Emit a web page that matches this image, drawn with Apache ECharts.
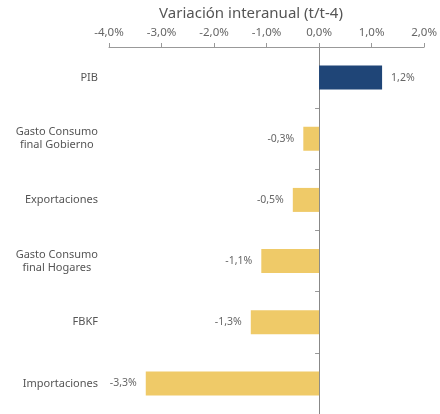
<!DOCTYPE html>
<html>
<head>
<meta charset="utf-8">
<script src="https://cdn.jsdelivr.net/npm/echarts@6/dist/echarts.min.js"></script>
<style>
  html, body { margin: 0; padding: 0; background: #fff; }
  #chart { width: 440px; height: 414px; }
</style>
</head>
<body>
<div id="chart"></div>
<script>
// datos
const categorias = ['PIB', 'Gasto Consumo\nfinal Gobierno', 'Exportaciones', 'Gasto Consumo\nfinal Hogares', 'FBKF', 'Importaciones'];
const valores = [1.2, -0.3, -0.5, -1.1, -1.3, -3.3];
const ticksX = [-4, -3, -2, -1, 0, 1, 2];

const AZUL = '#1F4577';
const AMARILLO = '#EFCA68';

function fmt(v) {
  return v.toFixed(1).replace('.', ',') + '%';
}

const myChart = echarts.init(document.getElementById('chart'));

const option = {
  animation: false,
  textStyle: { fontFamily: 'Noto Sans' },
  title: {
    text: 'Variación interanual (t/t-4)',
    left: 246,
    textAlign: 'center',
    top: 1,
    textStyle: { fontSize: 15, fontWeight: 'normal', color: '#555', fontFamily: 'Noto Sans' }
  },
  grid: { left: 109, right: 14, top: 47, bottom: -1 },
  xAxis: {
    type: 'value',
    position: 'top',
    min: ticksX[0],
    max: ticksX[ticksX.length - 1],
    interval: 1,
    splitLine: { show: false },
    axisLine: { show: true, onZero: false, lineStyle: { color: '#999', width: 1 } },
    axisTick: { show: true, length: 4, lineStyle: { color: '#999' } },
    axisLabel: {
      margin: 8,
      fontSize: 11.5,
      color: '#666',
      formatter: v => fmt(v)
    }
  },
  yAxis: [
    {
      // solo etiquetas, pegadas al borde izquierdo
      type: 'category',
      inverse: true,
      data: categorias,
      axisLine: { show: false, onZero: false },
      axisTick: { show: false },
      axisLabel: {
        margin: 11,
        fontSize: 11,
        color: '#555',
        formatter: function (v) {
          if (v.indexOf('\n') < 0) return v;
          return v.split('\n').map(l => '{c|' + l + '}').join('\n');
        },
        rich: {
          c: { fontSize: 11, color: '#555', align: 'center', lineHeight: 13, fontFamily: 'Noto Sans' }
        }
      }
    },
    {
      // linea vertical en el cero con sus marcas hacia la izquierda
      type: 'category',
      inverse: true,
      data: categorias,
      position: 'left',
      axisLine: { show: true, onZero: true, lineStyle: { color: '#888', width: 1 } },
      axisTick: { show: true, length: 4, lineStyle: { color: '#999' } },
      axisLabel: { show: false }
    }
  ],
  series: [{
    type: 'bar',
    yAxisIndex: 0,
    barWidth: 24,
    data: valores.map(v => ({
      value: v,
      itemStyle: { color: v >= 0 ? AZUL : AMARILLO },
      label: { position: v >= 0 ? 'right' : 'left' }
    })),
    label: {
      show: true,
      distance: 9,
      fontSize: 10.5,
      color: '#666',
      formatter: p => fmt(p.value)
    }
  }]
};

myChart.setOption(option);
</script>
</body>
</html>
